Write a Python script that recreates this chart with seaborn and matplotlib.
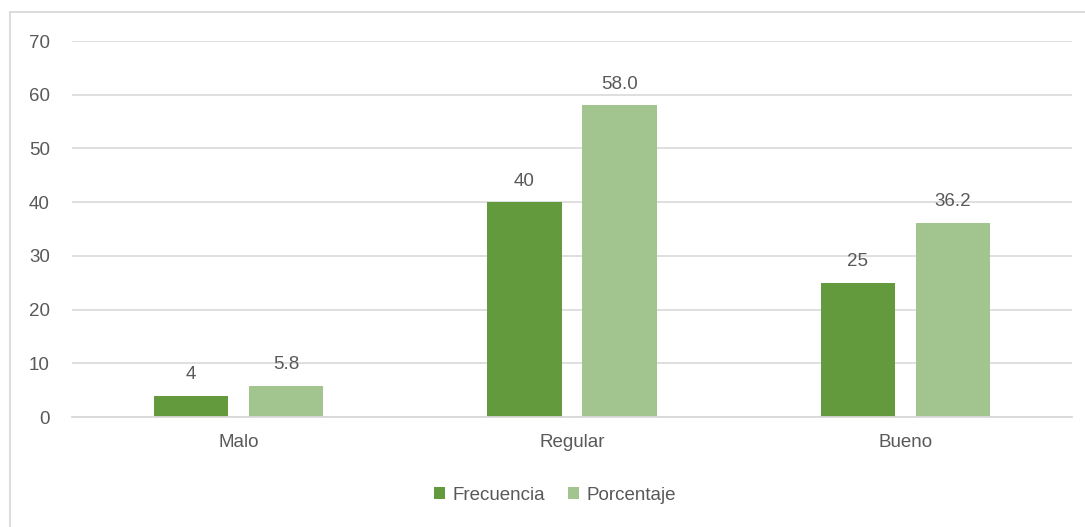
import numpy as np
import seaborn as sns
import matplotlib.pyplot as plt
import pandas as pd
from matplotlib.lines import Line2D

categorias = ["Malo", "Regular", "Bueno"]
frecuencia = [4, 40, 25]
porcentaje = [5.8, 58.0, 36.2]
series = ["Frecuencia", "Porcentaje"]
colores = ["#629A3D", "#A2C58F"]

sns.set_theme(style="white")
plt.rcParams['font.family'] = ['Liberation Sans', 'DejaVu Sans']
texto = "#595959"

df = pd.DataFrame({
    "categoria": categorias * 2,
    "serie": [series[0]] * 3 + [series[1]] * 3,
    "valor": frecuencia + porcentaje,
})

fig = plt.figure(figsize=(10.85, 5.27), dpi=100)
ax = fig.add_axes([0.0664, 0.2087, 0.9216, 0.7135])

sns.barplot(data=df, x="categoria", y="valor", hue="serie", order=categorias,
            hue_order=series, palette=colores, width=0.57, gap=0.22,
            saturation=1, linewidth=0, ax=ax, legend=True)

ax.set_ylim(0, 70)
ax.set_xlim(-0.5, 2.5)
ax.set_yticks(np.arange(0, 71, 10))
ax.yaxis.grid(True, color="#D9D9D9", linewidth=1.2)
ax.set_axisbelow(True)
for s in ["left", "right", "top"]:
    ax.spines[s].set_visible(False)
ax.spines["bottom"].set_color("#D9D9D9")
ax.spines["bottom"].set_linewidth(1.3)
ax.tick_params(axis="both", length=0, labelsize=13.5, colors=texto)
ax.tick_params(axis="y", pad=16)
ax.tick_params(axis="x", pad=12)
ax.set_xlabel("")
ax.set_ylabel("")

for cont, fmt in zip(ax.containers, ["{:.0f}", "{:.1f}"]):
    ax.bar_label(cont, labels=[fmt.format(v) for v in cont.datavalues],
                 padding=9, fontsize=13.5, color=texto)

handles, labels = ax.get_legend_handles_labels()
ax.legend(handles, labels, loc="center", bbox_to_anchor=(555 / 1085, 32 / 527),
          bbox_transform=fig.transFigure, ncol=2, frameon=False, fontsize=13.5,
          handlelength=0.6, handleheight=0.6, handletextpad=0.4,
          columnspacing=1.2, labelcolor=texto)

fig.add_artist(Line2D([10 / 1085, 10 / 1085], [0, 1 - 12 / 527],
                      transform=fig.transFigure, color="#D9D9D9", linewidth=1.3))
fig.add_artist(Line2D([10 / 1085, 1], [1 - 12 / 527, 1 - 12 / 527],
                      transform=fig.transFigure, color="#D9D9D9", linewidth=1.3))

fig.savefig("out.png", dpi=100)
